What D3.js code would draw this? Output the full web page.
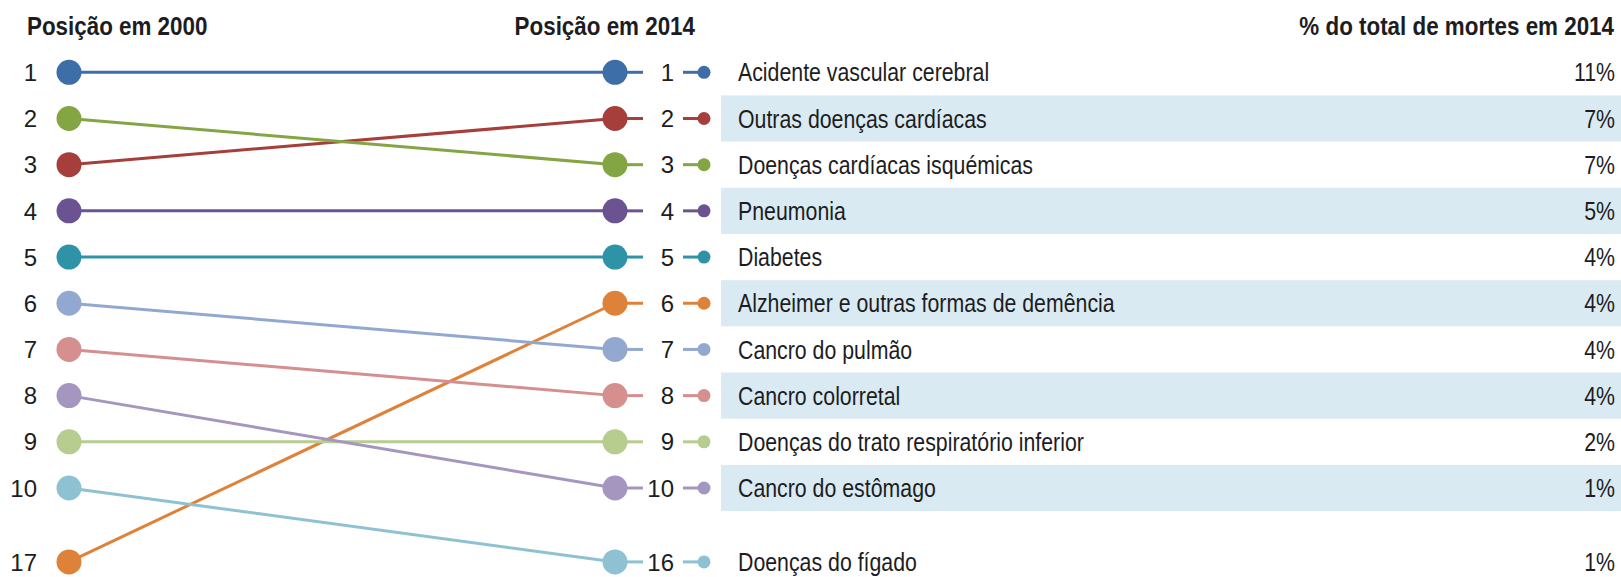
<!DOCTYPE html>
<html>
<head>
<meta charset="utf-8">
<script src="https://cdn.jsdelivr.net/npm/d3@7"></script>
<style>
  body { margin: 0; background: #fff; }
  svg { display: block; }
</style>
</head>
<body>
<div id="chart"></div>
<script>
// causes of death, ordered by position in 2014
const causes = [
  "Acidente vascular cerebral",
  "Outras doenças cardíacas",
  "Doenças cardíacas isquémicas",
  "Pneumonia",
  "Diabetes",
  "Alzheimer e outras formas de demência",
  "Cancro do pulmão",
  "Cancro colorretal",
  "Doenças do trato respiratório inferior",
  "Cancro do estômago",
  "Doenças do fígado"
];
const rank2000 = [1, 3, 2, 4, 5, 17, 6, 7, 9, 8, 10];
const rank2014 = [1, 2, 3, 4, 5, 6, 7, 8, 9, 10, 16];
const share2014 = [11, 7, 7, 5, 4, 4, 4, 4, 2, 1, 1];
const colors = ["#3e6ea8", "#a63f3b", "#84a544", "#6b5291", "#2e93a6", "#de823a",
                "#93a8d0", "#d48f8e", "#b7cc8f", "#a596c0", "#8ec2d2"];
const years = ["2000", "2014"];

const width = 1621, height = 577;
const font = "'Liberation Sans', Arial, sans-serif";
const textColor = "#1d1d1f";
// no narrow font installed, so squeeze Liberation Sans horizontally
const squeeze = 0.82;

const rows = causes.map((c, i) => ({
  name: c, r2000: rank2000[i], r2014: rank2014[i], share: share2014[i], color: colors[i], idx: i
}));

// ranks outside the top 10 sit in one extra slot after a small gap
const slot = r => r <= 10 ? r : 11.6;

const x = d3.scalePoint().domain(years).range([69, 615]);
const y = d3.scaleLinear().domain([1, 10]).range([72.3, 488]);
const rowStep = y(2) - y(1);

const svg = d3.select("#chart").append("svg")
    .attr("width", width)
    .attr("height", height)
    .attr("viewBox", [0, 0, width, height])
    .attr("font-family", font);

// alternate row bands on the table side
svg.append("g")
  .selectAll("rect")
  .data(rows.filter(d => d.idx % 2 === 1))
  .join("rect")
    .attr("x", 721)
    .attr("width", width - 721)
    .attr("y", d => y(slot(d.r2014)) - rowStep / 2)
    .attr("height", rowStep)
    .attr("fill", "#daeaf2");

// headers
const head = svg.append("g")
    .attr("font-weight", "bold")
    .attr("font-size", 26.5)
    .attr("fill", textColor);
const headers = [
  { t: "Posição em 2000", x: 27, anchor: "start" },
  { t: "Posição em 2014", x: 695, anchor: "end" },
  { t: "% do total de mortes em 2014", x: 1614, anchor: "end" }
];
head.selectAll("text")
  .data(headers)
  .join("text")
    .attr("transform", d => `translate(${d.x},35) scale(0.845,1)`)
    .attr("text-anchor", d => d.anchor)
    .text(d => d.t);

// slope lines
svg.append("g")
    .attr("fill", "none")
    .attr("stroke-width", 3)
  .selectAll("line")
  .data(rows)
  .join("line")
    .attr("x1", x("2000"))
    .attr("y1", d => y(slot(d.r2000)))
    .attr("x2", x("2014"))
    .attr("y2", d => y(slot(d.r2014)))
    .attr("stroke", d => d.color);

// connectors on the right side
const right = svg.append("g");
right.selectAll("line.stub")
  .data(rows)
  .join("line")
    .attr("class", "stub")
    .attr("x1", x("2014"))
    .attr("x2", 643)
    .attr("y1", d => y(slot(d.r2014)))
    .attr("y2", d => y(slot(d.r2014)))
    .attr("stroke", d => d.color)
    .attr("stroke-width", 3);
right.selectAll("line.tick")
  .data(rows)
  .join("line")
    .attr("class", "tick")
    .attr("x1", 683)
    .attr("x2", 704)
    .attr("y1", d => y(slot(d.r2014)))
    .attr("y2", d => y(slot(d.r2014)))
    .attr("stroke", d => d.color)
    .attr("stroke-width", 3);
right.selectAll("circle")
  .data(rows)
  .join("circle")
    .attr("cx", 704)
    .attr("cy", d => y(slot(d.r2014)))
    .attr("r", 6.5)
    .attr("fill", d => d.color);

// big dots
svg.append("g")
  .selectAll("circle")
  .data(rows.flatMap(d => [{ yr: "2000", r: d.r2000, color: d.color }, { yr: "2014", r: d.r2014, color: d.color }]))
  .join("circle")
    .attr("cx", d => x(d.yr))
    .attr("cy", d => y(slot(d.r)))
    .attr("r", 12.5)
    .attr("fill", d => d.color);

// rank numbers
const nums = svg.append("g")
    .attr("font-size", 24)
    .attr("fill", textColor)
    .attr("text-anchor", "end");
nums.selectAll("text.l")
  .data(rows)
  .join("text")
    .attr("class", "l")
    .attr("x", 37)
    .attr("y", d => y(slot(d.r2000)))
    .attr("dy", "0.36em")
    .text(d => d.r2000);
nums.selectAll("text.r")
  .data(rows)
  .join("text")
    .attr("class", "r")
    .attr("x", 674)
    .attr("y", d => y(slot(d.r2014)))
    .attr("dy", "0.36em")
    .text(d => d.r2014);

// table: names and shares
const table = svg.append("g")
    .attr("font-size", 26)
    .attr("fill", textColor);
table.selectAll("text.name")
  .data(rows)
  .join("text")
    .attr("class", "name")
    .attr("transform", d => `translate(738,${y(slot(d.r2014))}) scale(${squeeze},1)`)
    .attr("dy", "0.35em")
    .text(d => d.name);
table.selectAll("text.pct")
  .data(rows)
  .join("text")
    .attr("class", "pct")
    .attr("transform", d => `translate(1615,${y(slot(d.r2014))}) scale(${squeeze},1)`)
    .attr("dy", "0.35em")
    .attr("text-anchor", "end")
    .text(d => d.share + "%");
</script>
</body>
</html>
